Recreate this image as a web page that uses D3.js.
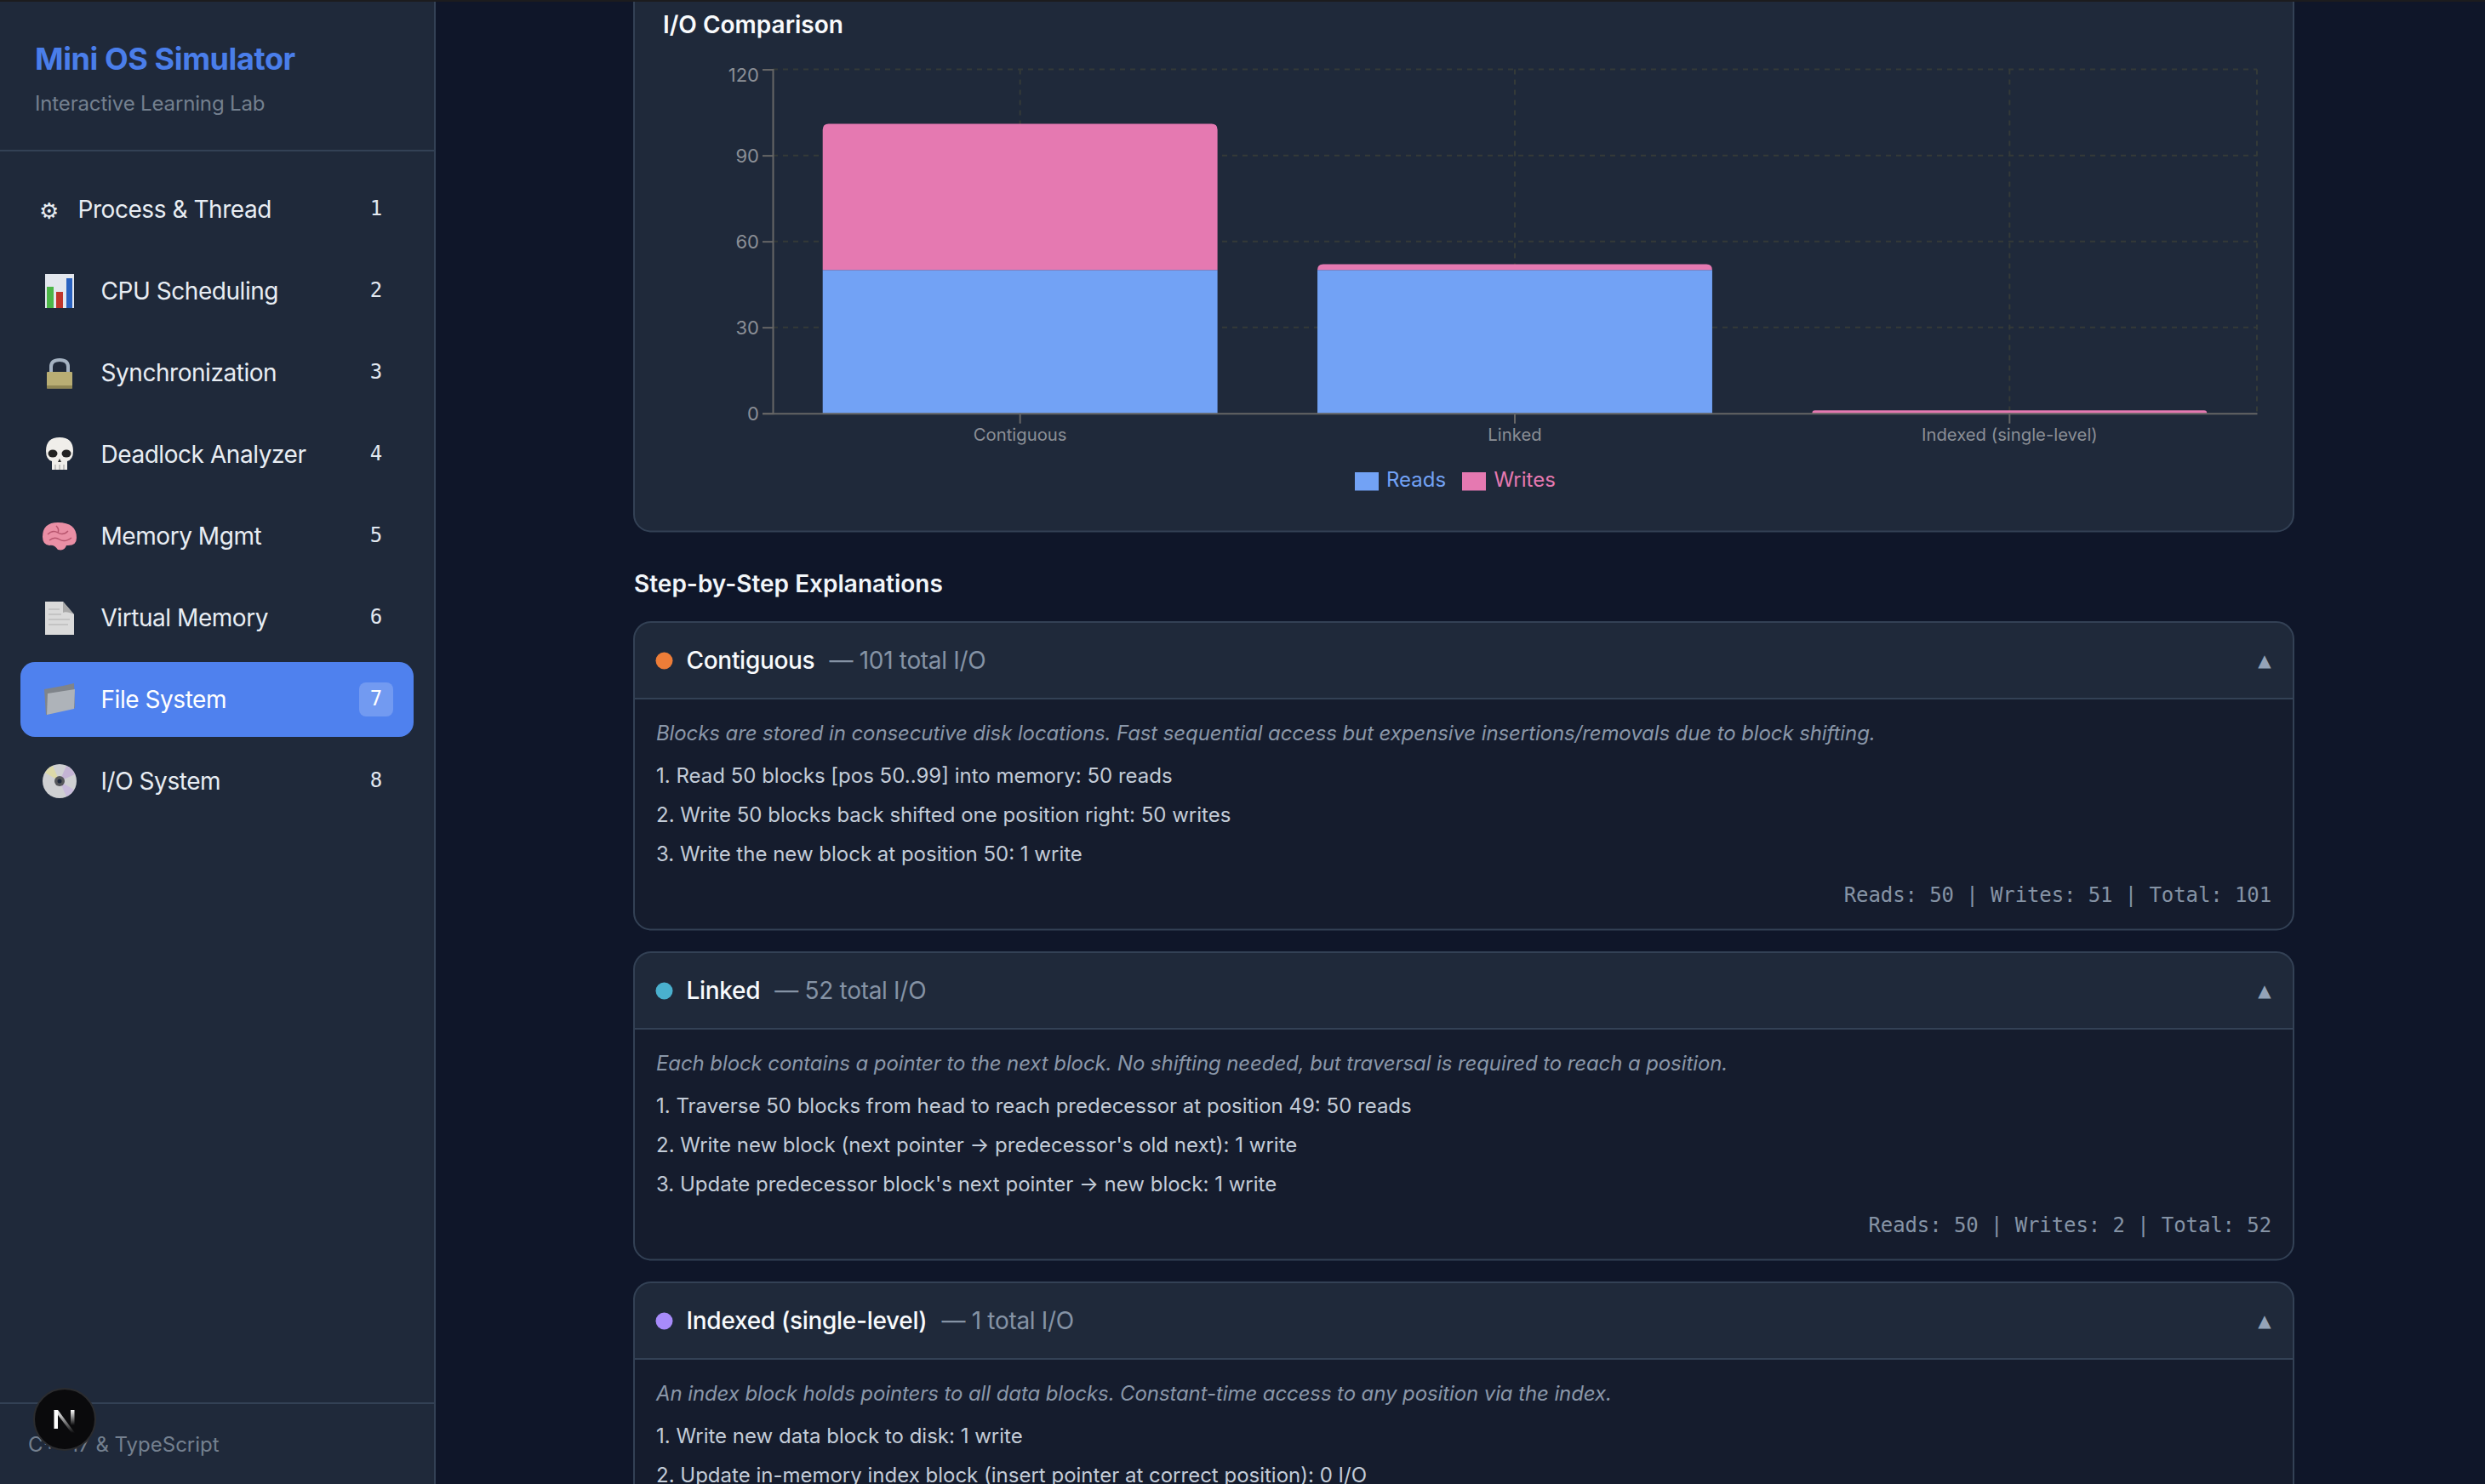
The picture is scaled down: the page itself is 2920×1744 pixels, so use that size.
<!DOCTYPE html>
<html>
<head>
<meta charset="utf-8">
<script src="https://cdn.jsdelivr.net/npm/d3@7"></script>
<style>
  html, body { margin: 0; padding: 0; background: #0f1629; overflow: hidden; }
  svg { display: block; }
  text { font-family: Inter, "Noto Sans", sans-serif; }
  .mono { font-family: "DejaVu Sans Mono", monospace; }
</style>
</head>
<body>
<div id="page"></div>
<script>
// chart data
const categories = ["Contiguous", "Linked", "Indexed (single-level)"]
const readsData = [50, 50, 0]
const writesData = [51, 2, 1]
const yTicks = [0, 30, 60, 90, 120]
const seriesNames = ["Reads", "Writes"]
const seriesColors = ["#72a2f5", "#e579b1"]

// sidebar text
const navLabels = ["Process & Thread", "CPU Scheduling", "Synchronization", "Deadlock Analyzer", "Memory Mgmt", "Virtual Memory", "File System", "I/O System"]
const activeNav = 6

// explanation cards
const cardNames = ["Contiguous", "Linked", "Indexed (single-level)"]
const cardColors = ["#ed7d38", "#4ab0ce", "#a78bfa"]
const cardDescriptions = [
    "Blocks are stored in consecutive disk locations. Fast sequential access but expensive insertions/removals due to block shifting.",
    "Each block contains a pointer to the next block. No shifting needed, but traversal is required to reach a position.",
    "An index block holds pointers to all data blocks. Constant-time access to any position via the index."
]
const cardSteps = [
    ["1. Read 50 blocks [pos 50..99] into memory: 50 reads", "2. Write 50 blocks back shifted one position right: 50 writes", "3. Write the new block at position 50: 1 write"],
    ["1. Traverse 50 blocks from head to reach predecessor at position 49: 50 reads", "2. Write new block (next pointer \u2192 predecessor's old next): 1 write", "3. Update predecessor block's next pointer \u2192 new block: 1 write"],
    ["1. Write new data block to disk: 1 write", "2. Update in-memory index block (insert pointer at correct position): 0 I/O"]
]

const svgWidth = 2920
const svgHeight = 1744
const panelFill = "#1f293a"
const borderColor = "#334155"

let svg = d3
    .select("#page")
    .append("svg")
    .attr("width", svgWidth)
    .attr("height", svgHeight)
svg.append("rect").attr("width", svgWidth).attr("height", svgHeight).attr("fill", "#0f1629")

function addText(parent, x, y, str, size, color, weight, spacing) {
    return parent
        .append("text")
        .attr("x", x)
        .attr("y", y)
        .attr("font-size", size)
        .attr("font-weight", weight || 400)
        .attr("letter-spacing", spacing || 0)
        .attr("fill", color)
        .text(str)
}

function drawChartCard() {
    let margin = { top: 81.6, right: 268, bottom: 1258.3, left: 908 }
    let width = svgWidth - margin.left - margin.right
    let height = svgHeight - margin.top - margin.bottom

    svg.append("rect")
        .attr("x", 745).attr("y", -40)
        .attr("width", 1950).attr("height", 664.5)
        .attr("rx", 20)
        .attr("fill", panelFill)
        .attr("stroke", borderColor)
        .attr("stroke-width", 2)
    addText(svg, 779, 39, "I/O Comparison", 28, "#f8fafc", 600)

    let chartGroup = svg
        .append("g")
        .attr("transform", `translate(${margin.left}, ${margin.top})`)

    let xScale = d3.scaleBand().domain(categories).range([0, width]).paddingInner(0.202).paddingOuter(0.101)
    let yScale = d3.scaleLinear().domain([0, 120]).range([height, 0])

    // grid goes under the bars
    let grid = chartGroup.append("g").attr("stroke", "#343a38").attr("stroke-width", 2).attr("stroke-dasharray", "6 6")
    grid.selectAll(".h")
        .data(yTicks.filter(d => d > 0))
        .enter()
        .append("line")
        .attr("x1", 0)
        .attr("x2", width)
        .attr("y1", d => yScale(d))
        .attr("y2", d => yScale(d))
    grid.selectAll(".v")
        .data(categories.map(d => xScale(d) + xScale.bandwidth() / 2).concat([width]))
        .enter()
        .append("line")
        .attr("x1", d => d)
        .attr("x2", d => d)
        .attr("y1", 0)
        .attr("y2", height)

    let rows = categories.map((c, i) => ({ category: c, Reads: readsData[i], Writes: writesData[i] }))
    let stacked = d3.stack().keys(seriesNames)(rows)

    stacked.forEach((layer, s) => {
        chartGroup
            .append("g")
            .selectAll("path")
            .data(layer)
            .enter()
            .append("path")
            .attr("fill", seriesColors[s])
            .attr("d", d => {
                if (d[1] === d[0]) return ""
                let x0 = xScale(d.data.category)
                let x1 = x0 + xScale.bandwidth()
                let yTop = yScale(d[1])
                let yBottom = yScale(d[0])
                // only the top segment has rounded corners
                let r = s === 1 ? Math.min(7, yBottom - yTop) : 0
                return `M${x0},${yBottom}V${yTop + r}Q${x0},${yTop} ${x0 + r},${yTop}H${x1 - r}Q${x1},${yTop} ${x1},${yTop + r}V${yBottom}Z`
            })
    })

    let yAxis = chartGroup.append("g").call(d3.axisLeft(yScale).tickValues(yTicks).tickSize(12).tickPadding(4))
    let xAxis = chartGroup
        .append("g")
        .attr("transform", `translate(0, ${height})`)
        .call(d3.axisBottom(xScale).tickSize(12).tickPadding(6).tickSizeOuter(0))
    for (let axis of [xAxis, yAxis]) {
        axis.selectAll(".domain").attr("stroke", "#666").attr("stroke-width", 2)
        axis.selectAll("line").attr("stroke", "#666").attr("stroke-width", 2)
        axis.selectAll("text").attr("fill", "#8b8f96").attr("font-family", "Inter")
    }
    xAxis.selectAll("text").attr("font-size", 20.3)
    yAxis.selectAll("text").attr("font-size", 22).attr("y", 1)
    // top label sits lower so it stays inside the chart
    yAxis.selectAll("text").filter(d => d === 120).attr("y", 7)

    let legendItems = [[1592, 1629], [1718, 1755.5]]
    seriesNames.forEach((name, i) => {
        svg.append("rect")
            .attr("x", legendItems[i][0]).attr("y", 555)
            .attr("width", 28).attr("height", 21.5)
            .attr("fill", seriesColors[i])
        addText(svg, legendItems[i][1], 572, name, 24, seriesColors[i])
    })
}

function drawCards() {
    addText(svg, 745, 696, "Step-by-Step Explanations", 28, "#f1f5f9", 600)
    cardNames.forEach((name, i) => {
        let g = svg.append("g").attr("transform", `translate(0, ${i * 388})`)
        let total = readsData[i] + writesData[i]
        g.append("rect")
            .attr("x", 745).attr("y", 731)
            .attr("width", 1950).attr("height", 361.5)
            .attr("rx", 20)
            .attr("fill", "#151c2d")
        g.append("path")
            .attr("d", "M745,821V751Q745,731 765,731H2675Q2695,731 2695,751V821Z")
            .attr("fill", panelFill)
        g.append("rect")
            .attr("x", 745).attr("y", 731)
            .attr("width", 1950).attr("height", 361.5)
            .attr("rx", 20)
            .attr("fill", "none")
            .attr("stroke", borderColor)
            .attr("stroke-width", 2)
        g.append("line").attr("x1", 745).attr("x2", 2695).attr("y1", 821).attr("y2", 821)
            .attr("stroke", borderColor).attr("stroke-width", 2)
        g.append("circle").attr("cx", 780.5).attr("cy", 776.5).attr("r", 10).attr("fill", cardColors[i])
        let title = addText(g, 806.5, 786, name, 28, "#f8fafc", 500, -0.3)
        title.append("tspan").attr("dx", 17).attr("fill", "#8593a5").attr("font-weight", 400).text(`\u2014 ${total} total I/O`)
        addText(g, 2661, 783, "\u25B2", 20, "#94a3b8").attr("text-anchor", "middle").style("font-family", "DejaVu Sans")
        addText(g, 771, 870, cardDescriptions[i], 24, "#8a97a9", 400, -0.1).attr("font-style", "italic")
        cardSteps[i].forEach((step, j) => {
            addText(g, 771, 920 + j * 46, step, 24, "#c3ccd8")
        })
        if (i < 2) {
            addText(g, 2669, 1060, `Reads: ${readsData[i]} | Writes: ${writesData[i]} | Total: ${total}`, 24, "#8593a5", 400, -0.1)
                .attr("text-anchor", "end")
                .attr("class", "mono")
        }
    })
}

// small pictures standing in for the emoji in the nav
const icons = [
    null,
    g => {
        g.append("rect").attr("x", 53).attr("y", 322).attr("width", 34).attr("height", 40).attr("fill", "#e3e7ee")
        g.append("rect").attr("x", 55).attr("y", 337).attr("width", 8).attr("height", 25).attr("fill", "#4cb648")
        g.append("rect").attr("x", 66).attr("y", 343).attr("width", 8).attr("height", 19).attr("fill", "#c0362c")
        g.append("rect").attr("x", 78).attr("y", 327).attr("width", 7).attr("height", 35).attr("fill", "#2a62c0")
    },
    g => {
        g.append("path").attr("d", "M60,438V431Q60,423 70,423Q80,423 80,431V438").attr("fill", "none").attr("stroke", "#a4b2c2").attr("stroke-width", 4)
        g.append("rect").attr("x", 55).attr("y", 437).attr("width", 30).attr("height", 19.5).attr("rx", 1).attr("fill", "#b9ae74")
        g.append("rect").attr("x", 55).attr("y", 453).attr("width", 30).attr("height", 3.5).attr("fill", "#8f8654")
    },
    g => {
        g.append("path").attr("d", "M54,530Q54,514 70,514Q86,514 86,530Q86,540 79,542V552H61V542Q54,540 54,530Z").attr("fill", "#f0eeea")
        g.append("ellipse").attr("cx", 62).attr("cy", 533).attr("rx", 5.5).attr("ry", 4.5).attr("fill", "#222")
        g.append("ellipse").attr("cx", 78).attr("cy", 533).attr("rx", 5.5).attr("ry", 4.5).attr("fill", "#222")
        g.append("path").attr("d", "M68,543L70,539L72,543Z").attr("fill", "#333")
        g.append("path").attr("d", "M65,546V552M70,546V552M75,546V552").attr("stroke", "#999").attr("stroke-width", 1)
    },
    g => {
        g.append("path").attr("d", "M50,631Q50,614 68,614Q90,614 90,632Q90,642 78,641Q76,648 68,646Q64,640 58,641Q50,640 50,631Z").attr("fill", "#ea8fa5")
        g.append("path").attr("d", "M56,628Q62,622 68,626T80,624M58,635Q64,630 70,634T84,632M66,618Q70,622 68,626").attr("fill", "none").attr("stroke", "#b8566f").attr("stroke-width", 1.5)
    },
    g => {
        g.append("path").attr("d", "M53,707H74L87,722V746H53Z").attr("fill", "#dadada")
        g.append("path").attr("d", "M74,707L87,722Q78,718 74,720Z").attr("fill", "#a9a9a9")
        g.append("path").attr("d", "M57,716H70M57,722H72M57,728H82M57,734H80").attr("stroke", "#bdbdbd").attr("stroke-width", 1.5)
    },
    g => {
        g.append("path").attr("d", "M52,810L74,806L87,803L88,832L54,840Z").attr("fill", "#7f848a")
        g.append("path").attr("d", "M56,815L88,810L87,833L55,840Z").attr("fill", "#aeb3b9")
    },
    g => {
        g.append("circle").attr("cx", 70).attr("cy", 918).attr("r", 20).attr("fill", "#cfd0d2")
        g.append("path").attr("d", "M70,918L53,908A20,20 0 0 1 62,900Z").attr("fill", "#dcd9a8")
        g.append("path").attr("d", "M70,918L87,928A20,20 0 0 1 78,936Z").attr("fill", "#c9bcdc")
        g.append("path").attr("d", "M70,918L78,900A20,20 0 0 1 88,910Z").attr("fill", "#c4b4d4")
        g.append("circle").attr("cx", 70).attr("cy", 918).attr("r", 6).attr("fill", "#55575b")
        g.append("circle").attr("cx", 70).attr("cy", 918).attr("r", 2.5).attr("fill", "#1e293b")
    }
]

function drawSidebar() {
    svg.append("rect").attr("width", 510).attr("height", svgHeight).attr("fill", panelFill)
    svg.append("rect").attr("x", 510).attr("width", 2).attr("height", svgHeight).attr("fill", borderColor)
    svg.append("rect").attr("y", 176).attr("width", 510).attr("height", 2).attr("fill", borderColor)
    svg.append("rect").attr("y", 1648).attr("width", 510).attr("height", 2).attr("fill", borderColor)

    addText(svg, 41, 82, "Mini OS Simulator", 36, "#4a7eea", 700, -0.4)
    addText(svg, 41, 130, "Interactive Learning Lab", 24, "#74808f", 400, -0.15)

    svg.append("rect").attr("x", 24).attr("y", 778).attr("width", 462).attr("height", 88).attr("rx", 17).attr("fill", "#4f81ee")
    svg.append("rect").attr("x", 422).attr("y", 802).attr("width", 40).attr("height", 40).attr("rx", 8).attr("fill", "#ffffff").attr("fill-opacity", 0.2)

    navLabels.forEach((label, i) => {
        let y = 256 + i * 96
        let x = i === 0 ? 91.5 : 118.5
        addText(svg, x, y, label, 28, i === activeNav ? "#ffffff" : "#e8edf3", 400, -0.45)
        addText(svg, 442, y - 3, String(i + 1), 24, i === activeNav ? "#ffffff" : "#e2e8f0")
            .attr("text-anchor", "middle")
            .attr("class", "mono")
        if (icons[i]) icons[i](svg.append("g"))
    })
    addText(svg, 46, 257, "\u2699", 26, "#e8edf3").style("font-family", "DejaVu Sans")

    addText(svg, 33, 1706, "C++17 & TypeScript", 24, "#74808f")

    // dev indicator badge over the footer
    let grad = svg.append("defs").append("linearGradient").attr("id", "nFade").attr("x1", 0).attr("y1", 0).attr("x2", 0).attr("y2", 1)
    grad.append("stop").attr("offset", 0).attr("stop-color", "#fff")
    grad.append("stop").attr("offset", 1).attr("stop-color", "#fff").attr("stop-opacity", 0)
    svg.append("circle").attr("cx", 76).attr("cy", 1668).attr("r", 36).attr("fill", "#0a0a0c").attr("stroke", "#2b2c2f").attr("stroke-width", 2)
    svg.append("rect").attr("x", 63.5).attr("y", 1657).attr("width", 4.5).attr("height", 22).attr("fill", "#fff")
    svg.append("path").attr("d", "M63.5,1657H68L88,1684H84Z").attr("fill", "url(#nFade)")
    svg.append("rect").attr("x", 83).attr("y", 1657).attr("width", 4.5).attr("height", 18).attr("fill", "url(#nFade)")
}

drawChartCard()
drawCards()
drawSidebar()
// strip along the very top of the window
svg.append("rect").attr("width", svgWidth).attr("height", 2).attr("fill", "#1c1c1e")
</script>
</body>
</html>
